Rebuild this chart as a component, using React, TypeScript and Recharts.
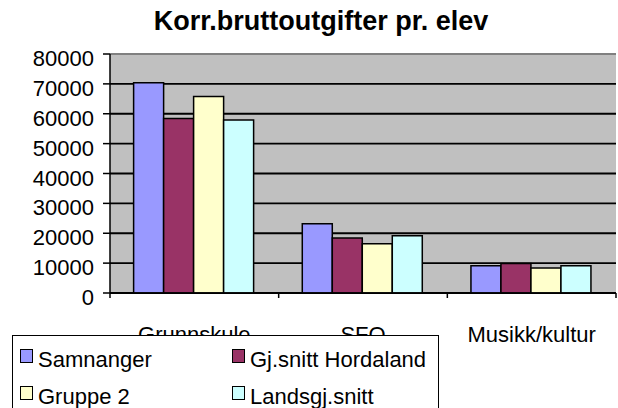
import { BarChart, Bar, XAxis, YAxis, CartesianGrid, Legend, ReferenceLine } from 'recharts';

const categories = ['Grunnskule', 'SFO', 'Musikk/kultur'];
const samnanger = [70400, 23200, 9100];
const hordaland = [58400, 18400, 9900];
const gruppe2 = [65800, 16500, 8400];
const landssnitt = [57900, 19200, 9100];
const yTicks = [0, 10000, 20000, 30000, 40000, 50000, 60000, 70000, 80000];

const series = [
    { key: 'samnanger', name: 'Samnanger', color: '#9999FF' },
    { key: 'hordaland', name: 'Gj.snitt Hordaland', color: '#993366' },
    { key: 'gruppe2', name: 'Gruppe 2', color: '#FFFFCC' },
    { key: 'landssnitt', name: 'Landsgj.snitt', color: '#CCFFFF' },
];

const data = categories.map((name, i) => ({
    name,
    samnanger: samnanger[i],
    hordaland: hordaland[i],
    gruppe2: gruppe2[i],
    landssnitt: landssnitt[i],
}));

const font = 'Arial, "Liberation Sans", sans-serif';

const YTick = ({ x, y, payload }: any) => (
    <text x={x} y={y} dy={12} textAnchor="end" fill="#000" fontSize={22} fontFamily={font}>
        {payload.value}
    </text>
);

// category label plus Excel-style tick marks on the category boundaries
const XTick = ({ x, y, payload, index, visibleTicksCount }: any) => {
    const half = payload.offset || 0;
    return (
        <g>
            <line x1={x - half} x2={x - half} y1={y} y2={y + 5} stroke="#000" strokeWidth={1.5} />
            {index === visibleTicksCount - 1 && (
                <line x1={x + half} x2={x + half} y1={y} y2={y + 5} stroke="#000" strokeWidth={1.5} />
            )}
            <text x={x} y={y} dy={49} textAnchor="middle" fill="#000" fontSize={22} fontFamily={font}>
                {payload.value}
            </text>
        </g>
    );
};

function LegendBox() {
    const cols = [7, 219];
    const rows = [13, 50];
    return (
        <div
            style={{
                position: 'relative',
                boxSizing: 'border-box',
                width: 427,
                height: 80,
                background: '#fff',
                border: '1px solid #000',
                fontFamily: font,
                fontSize: 22,
                lineHeight: '22px',
                color: '#000',
            }}
        >
            {series.map((s, i) => {
                const left = cols[i % 2];
                const top = rows[Math.floor(i / 2)];
                return (
                    <div key={s.key}>
                        <span
                            style={{
                                position: 'absolute',
                                boxSizing: 'border-box',
                                left,
                                top,
                                width: 13,
                                height: 14,
                                background: s.color,
                                border: '1.5px solid #000',
                            }}
                        />
                        <span style={{ position: 'absolute', left: left + 18, top: top - 0.5, whiteSpace: 'nowrap' }}>
                            {s.name}
                        </span>
                    </div>
                );
            })}
        </div>
    );
}

export default function App() {
    return (
        <div style={{ position: 'absolute', left: 0, top: 0, width: 618, height: 408, background: '#fff', overflow: 'hidden' }}>
            <div
                style={{
                    position: 'absolute',
                    left: 0,
                    top: 8,
                    width: 642,
                    textAlign: 'center',
                    fontFamily: font,
                    fontWeight: 'bold',
                    fontSize: 27,
                    lineHeight: '27px',
                    whiteSpace: 'nowrap',
                }}
            >
                Korr.bruttoutgifter pr. elev
            </div>
            <BarChart
                width={618}
                height={408}
                data={data}
                margin={{ top: 54, right: 2, left: 0, bottom: 71 }}
                barCategoryGap="14%"
                barGap={0}
            >
                <CartesianGrid vertical={false} fill="#C0C0C0" stroke="#000" strokeWidth={1.8} strokeOpacity={1} />
                <XAxis
                    dataKey="name"
                    height={44}
                    axisLine={{ stroke: '#000', strokeWidth: 1.5 }}
                    tickLine={false}
                    tickSize={0}
                    tickMargin={0}
                    tick={<XTick />}
                />
                <XAxis xAxisId="bounds" type="number" domain={[0, 3]} hide />
                <YAxis
                    width={110}
                    domain={[0, 80000]}
                    ticks={yTicks}
                    interval={0}
                    axisLine={{ stroke: '#000', strokeWidth: 1.5 }}
                    tickLine={{ stroke: '#000', strokeWidth: 1.5 }}
                    tickSize={7}
                    tickMargin={9}
                    tick={<YTick />}
                />
                {series.map((s) => (
                    <Bar
                        key={s.key}
                        dataKey={s.key}
                        name={s.name}
                        fill={s.color}
                        stroke="#000"
                        strokeWidth={1.5}
                        isAnimationActive={false}
                    />
                ))}
                <ReferenceLine y={80000} stroke="#808080" strokeWidth={2} />
                <ReferenceLine xAxisId="bounds" x={3} stroke="#808080" strokeWidth={1.5} />
                <Legend
                    layout="vertical"
                    align="center"
                    verticalAlign="middle"
                    wrapperStyle={{ left: 12, top: 335, width: 427, height: 80 }}
                    content={() => <LegendBox />}
                />
            </BarChart>
        </div>
    );
}
